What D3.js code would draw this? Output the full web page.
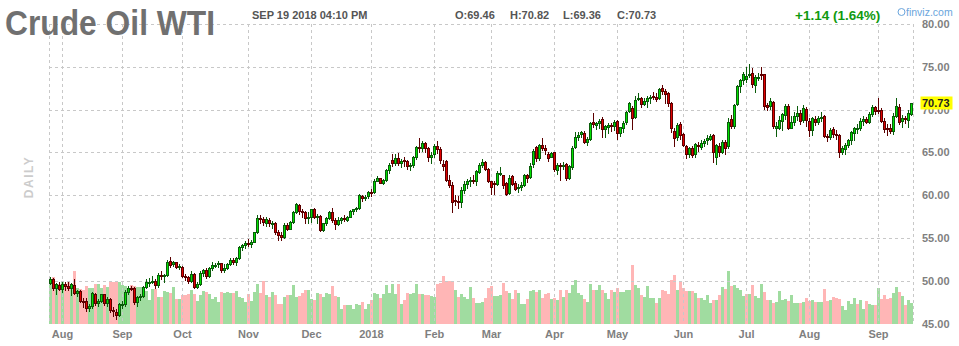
<!DOCTYPE html>
<html lang="en">
<head>
<meta charset="UTF-8">
<title>Crude Oil WTI</title>
<script src="https://d3js.org/d3.v7.min.js"></script>
<style>
  body { margin: 0; background: #fff; }
  svg { display: block; font-family: "Liberation Sans", Arial, sans-serif; }
</style>
</head>
<body>
<div id="chart"></div>
<script>
// Trading days, Jul 31 2017 .. Sep 19 2018 (one line per month)
const dates = [
  "2017-07-31",
  "2017-08-01","2017-08-02","2017-08-03","2017-08-04","2017-08-07","2017-08-08","2017-08-09","2017-08-10","2017-08-11","2017-08-14","2017-08-15","2017-08-16","2017-08-17","2017-08-18","2017-08-21","2017-08-22","2017-08-23","2017-08-24","2017-08-25","2017-08-28","2017-08-29","2017-08-30","2017-08-31",
  "2017-09-01","2017-09-05","2017-09-06","2017-09-07","2017-09-08","2017-09-11","2017-09-12","2017-09-13","2017-09-14","2017-09-15","2017-09-18","2017-09-19","2017-09-20","2017-09-21","2017-09-22","2017-09-25","2017-09-26","2017-09-27","2017-09-28","2017-09-29",
  "2017-10-02","2017-10-03","2017-10-04","2017-10-05","2017-10-06","2017-10-09","2017-10-10","2017-10-11","2017-10-12","2017-10-13","2017-10-16","2017-10-17","2017-10-18","2017-10-19","2017-10-20","2017-10-23","2017-10-24","2017-10-25","2017-10-26","2017-10-27","2017-10-30","2017-10-31",
  "2017-11-01","2017-11-02","2017-11-03","2017-11-06","2017-11-07","2017-11-08","2017-11-09","2017-11-10","2017-11-13","2017-11-14","2017-11-15","2017-11-16","2017-11-17","2017-11-20","2017-11-21","2017-11-22","2017-11-24","2017-11-27","2017-11-28","2017-11-29","2017-11-30",
  "2017-12-01","2017-12-04","2017-12-05","2017-12-06","2017-12-07","2017-12-08","2017-12-11","2017-12-12","2017-12-13","2017-12-14","2017-12-15","2017-12-18","2017-12-19","2017-12-20","2017-12-21","2017-12-22","2017-12-26","2017-12-27","2017-12-28","2017-12-29",
  "2018-01-02","2018-01-03","2018-01-04","2018-01-05","2018-01-08","2018-01-09","2018-01-10","2018-01-11","2018-01-12","2018-01-16","2018-01-17","2018-01-18","2018-01-19","2018-01-22","2018-01-23","2018-01-24","2018-01-25","2018-01-26","2018-01-29","2018-01-30","2018-01-31",
  "2018-02-01","2018-02-02","2018-02-05","2018-02-06","2018-02-07","2018-02-08","2018-02-09","2018-02-12","2018-02-13","2018-02-14","2018-02-15","2018-02-16","2018-02-20","2018-02-21","2018-02-22","2018-02-23","2018-02-26","2018-02-27","2018-02-28",
  "2018-03-01","2018-03-02","2018-03-05","2018-03-06","2018-03-07","2018-03-08","2018-03-09","2018-03-12","2018-03-13","2018-03-14","2018-03-15","2018-03-16","2018-03-19","2018-03-20","2018-03-21","2018-03-22","2018-03-23","2018-03-26","2018-03-27","2018-03-28","2018-03-29",
  "2018-04-02","2018-04-03","2018-04-04","2018-04-05","2018-04-06","2018-04-09","2018-04-10","2018-04-11","2018-04-12","2018-04-13","2018-04-16","2018-04-17","2018-04-18","2018-04-19","2018-04-20","2018-04-23","2018-04-24","2018-04-25","2018-04-26","2018-04-27","2018-04-30",
  "2018-05-01","2018-05-02","2018-05-03","2018-05-04","2018-05-07","2018-05-08","2018-05-09","2018-05-10","2018-05-11","2018-05-14","2018-05-15","2018-05-16","2018-05-17","2018-05-18","2018-05-21","2018-05-22","2018-05-23","2018-05-24","2018-05-25","2018-05-29","2018-05-30","2018-05-31",
  "2018-06-01","2018-06-04","2018-06-05","2018-06-06","2018-06-07","2018-06-08","2018-06-11","2018-06-12","2018-06-13","2018-06-14","2018-06-15","2018-06-18","2018-06-19","2018-06-20","2018-06-21","2018-06-22","2018-06-25","2018-06-26","2018-06-27","2018-06-28","2018-06-29",
  "2018-07-02","2018-07-03","2018-07-05","2018-07-06","2018-07-09","2018-07-10","2018-07-11","2018-07-12","2018-07-13","2018-07-16","2018-07-17","2018-07-18","2018-07-19","2018-07-20","2018-07-23","2018-07-24","2018-07-25","2018-07-26","2018-07-27","2018-07-30","2018-07-31",
  "2018-08-01","2018-08-02","2018-08-03","2018-08-06","2018-08-07","2018-08-08","2018-08-09","2018-08-10","2018-08-13","2018-08-14","2018-08-15","2018-08-16","2018-08-17","2018-08-20","2018-08-21","2018-08-22","2018-08-23","2018-08-24","2018-08-27","2018-08-28","2018-08-29","2018-08-30","2018-08-31",
  "2018-09-04","2018-09-05","2018-09-06","2018-09-07","2018-09-10","2018-09-11","2018-09-12","2018-09-13","2018-09-14","2018-09-17","2018-09-18","2018-09-19"
];

const opens = [
  49.75,
  50.20,49.15,49.55,49.05,49.60,49.40,49.20,49.55,48.60,48.80,47.60,47.60,46.80,47.10,48.50,47.40,47.65,48.40,47.45,47.85,46.55,46.40,46.00,
  47.25,47.30,48.70,49.15,49.10,47.50,48.10,48.25,49.30,49.85,49.90,49.95,49.50,50.70,50.55,50.70,52.25,52.00,52.15,51.55,
  51.65,50.55,50.45,49.95,50.80,49.30,49.60,50.95,51.30,50.60,51.45,51.85,51.90,52.05,51.30,51.50,51.90,52.45,52.20,52.65,53.90,54.15,
  54.40,54.30,54.55,55.65,57.35,57.20,56.80,57.15,56.70,56.75,55.70,55.35,55.15,56.55,56.10,56.85,58.05,58.90,58.10,58.00,57.30,
  57.40,58.35,57.45,57.60,55.95,56.70,57.35,58.00,57.15,56.60,57.05,57.30,57.15,57.45,58.10,58.35,58.50,59.95,59.65,59.85,
  60.40,60.35,61.65,62.00,61.45,61.75,62.95,64.10,63.80,64.30,63.75,64.05,63.95,63.35,63.55,64.45,65.60,65.50,66.10,65.55,64.50,
  64.75,65.80,65.45,63.60,63.95,61.80,61.15,59.40,59.30,59.20,60.60,61.35,61.70,61.80,61.70,62.75,63.55,63.90,63.00,
  61.65,61.40,61.30,62.55,62.30,61.40,60.20,62.20,61.40,60.80,60.95,61.20,62.30,62.10,63.60,65.60,64.30,65.90,65.55,64.80,64.50,
  65.00,62.90,63.50,63.35,63.60,62.00,63.30,65.60,66.80,67.10,67.30,66.20,66.60,68.60,68.20,68.40,68.90,67.70,68.00,68.20,68.10,
  68.70,67.30,67.90,68.50,69.80,70.20,69.10,71.20,71.40,70.60,71.00,71.30,71.60,71.50,71.40,72.50,72.20,71.90,70.80,67.50,66.80,68.30,
  67.10,65.70,64.80,65.50,64.80,65.90,65.60,66.10,66.40,66.60,67.00,64.50,65.80,65.00,66.20,65.80,68.90,68.10,70.60,72.80,73.40,
  73.60,74.00,74.30,72.90,73.80,74.20,74.10,70.50,70.40,70.90,67.90,67.90,68.70,69.40,70.40,67.90,68.50,69.30,69.60,68.80,70.10,
  68.70,67.60,68.90,68.50,69.00,69.20,66.90,66.80,67.70,67.10,67.00,65.00,65.40,65.90,66.40,67.30,67.75,67.80,68.70,68.90,68.50,69.50,70.30,
  69.90,69.90,68.70,67.90,67.80,67.50,69.30,70.30,68.70,69.00,68.80,69.46
];

const highs = [
  50.43,
  50.30,49.70,49.90,49.80,49.90,49.80,49.70,50.20,48.95,48.90,47.95,47.95,47.30,48.70,48.60,47.90,48.50,48.50,48.10,48.00,46.95,46.70,47.40,
  47.65,48.90,49.40,49.40,49.30,48.20,48.50,49.40,50.20,50.30,50.50,50.20,50.90,51.10,50.80,52.40,52.80,52.30,52.20,51.90,
  51.70,50.75,50.60,51.10,50.95,49.90,51.10,51.40,51.50,51.60,52.20,52.10,52.30,52.10,51.90,52.10,52.60,52.70,52.80,54.00,54.30,54.60,
  54.90,54.80,55.70,57.70,57.70,57.40,57.40,57.30,57.00,56.90,55.90,55.70,56.70,56.80,57.00,58.10,59.05,59.00,58.40,58.10,58.00,
  58.40,58.50,57.80,57.70,56.80,57.50,58.20,58.50,57.30,57.40,57.50,57.70,57.60,58.30,58.40,58.60,60.10,60.00,60.00,60.50,
  60.75,61.90,62.20,62.05,61.90,63.10,63.70,64.80,64.80,64.90,64.20,64.40,64.10,63.70,64.60,65.80,66.66,66.30,66.20,65.60,65.10,
  66.00,66.30,65.60,64.10,64.10,62.30,61.50,60.00,59.90,61.00,61.70,61.90,62.10,62.30,62.90,63.70,64.20,64.00,63.20,
  61.70,61.60,62.80,63.30,62.40,61.50,62.30,62.30,61.60,61.30,61.50,62.50,62.50,63.70,65.40,65.70,66.00,66.66,65.90,65.00,65.10,
  65.10,63.80,63.70,63.90,63.80,63.50,65.70,67.40,67.40,67.50,67.50,66.80,68.60,69.56,68.60,68.90,69.10,68.20,68.40,68.40,68.80,
  68.80,68.00,68.70,69.80,70.84,70.40,71.60,71.89,71.50,71.30,71.60,71.70,72.00,71.90,72.50,72.83,72.40,72.10,70.90,67.90,68.40,68.50,
  67.30,65.90,65.60,65.70,66.10,66.20,66.40,66.60,67.00,67.20,67.10,66.00,66.10,66.40,66.40,69.00,69.40,70.60,72.90,73.60,74.40,
  75.00,75.27,74.90,74.00,74.30,75.00,74.20,70.80,71.30,71.00,68.50,69.20,69.60,70.70,70.60,69.20,69.70,70.40,70.00,70.50,70.30,
  69.00,69.10,69.30,69.30,69.70,69.40,67.20,67.80,68.00,67.60,67.10,65.80,66.10,66.60,67.50,68.00,68.30,69.00,69.20,69.10,69.70,70.50,70.40,
  71.40,70.20,69.00,68.30,68.30,69.60,71.30,70.60,69.40,69.30,69.90,70.82
];

const lows = [
  49.60,
  48.97,48.50,48.90,48.70,48.90,48.90,48.30,48.50,48.25,47.55,46.95,46.50,46.45,46.80,47.20,47.00,47.50,47.20,47.10,46.30,45.90,45.58,45.90,
  46.80,47.10,48.40,48.90,47.30,47.10,47.80,48.05,49.10,49.40,49.70,49.10,49.30,50.20,49.90,50.60,51.60,51.70,51.50,51.40,
  50.40,50.10,49.70,49.80,49.20,49.10,49.50,50.60,50.30,50.40,51.30,51.60,51.60,51.00,51.00,51.40,51.80,51.90,51.80,52.50,53.60,53.80,
  54.00,53.90,54.50,55.60,56.80,56.50,56.40,56.40,56.20,55.50,54.80,54.80,55.00,55.90,56.00,56.70,57.90,57.80,57.50,56.80,56.80,
  56.90,57.30,56.80,55.80,55.80,56.50,57.20,56.90,56.10,56.50,56.80,57.00,57.00,57.40,57.80,58.10,58.40,59.30,59.40,59.70,
  59.90,60.30,61.60,61.40,61.30,61.60,62.60,63.40,63.50,63.50,63.30,63.40,63.00,62.90,63.30,64.20,65.10,65.20,65.00,64.00,63.70,
  64.40,64.90,63.80,62.90,61.60,61.00,58.07,58.90,58.50,58.60,60.20,60.80,61.10,61.40,61.20,62.60,63.30,62.90,61.50,
  60.10,60.10,61.20,62.30,60.80,60.00,60.10,61.20,60.60,60.40,60.60,61.10,61.50,62.00,63.30,64.00,64.10,65.30,64.80,64.00,64.40,
  62.80,62.50,61.80,63.00,61.80,61.90,63.10,65.50,66.50,66.80,66.10,65.90,66.40,68.00,67.70,67.90,66.80,66.80,67.30,67.50,67.60,
  66.60,66.90,67.40,68.30,69.70,67.70,69.00,71.10,70.30,70.50,70.30,70.80,71.20,71.00,71.20,71.80,70.80,70.40,67.40,65.80,66.50,66.60,
  65.70,64.30,64.40,64.40,64.50,65.20,65.40,65.80,66.00,66.40,63.90,63.60,64.60,64.90,64.80,65.50,67.90,67.90,70.50,72.10,73.00,
  73.20,73.80,72.60,72.00,73.40,73.60,70.10,69.90,70.10,67.80,66.90,67.70,67.60,68.90,67.70,67.80,68.20,68.80,68.30,68.60,68.10,
  66.90,67.00,68.20,68.30,68.70,66.80,66.30,66.60,66.80,66.60,64.43,64.80,64.80,65.60,66.00,66.50,67.30,67.60,68.20,68.40,68.40,69.30,69.50,
  69.60,68.60,67.40,67.00,67.30,67.20,69.10,68.30,68.00,68.40,68.00,69.36
];

const closes = [
  50.17,
  49.16,49.59,49.03,49.58,49.39,49.17,49.56,48.59,48.82,47.59,47.55,46.78,47.09,48.51,47.37,47.64,48.41,47.43,47.87,46.57,46.44,45.96,47.23,
  47.29,48.66,49.16,49.09,47.48,48.07,48.23,49.30,49.89,49.89,49.91,49.48,50.69,50.55,50.66,52.22,51.88,52.14,51.56,51.67,
  50.58,50.42,49.98,50.79,49.29,49.58,50.92,51.30,50.60,51.45,51.87,51.88,52.04,51.29,51.47,51.90,52.47,52.18,52.64,53.90,54.15,54.38,
  54.30,54.54,55.64,57.35,57.20,56.81,57.17,56.74,56.76,55.70,55.33,55.14,56.55,56.09,56.83,58.02,58.95,58.11,57.99,57.30,57.40,
  58.36,57.47,57.62,55.96,56.69,57.36,57.99,57.14,56.60,57.04,57.30,57.16,57.46,58.09,58.36,58.47,59.97,59.64,59.84,60.42,
  60.37,61.63,62.01,61.44,61.73,62.96,63.57,63.80,64.30,63.73,63.97,63.95,63.37,63.57,64.47,65.61,65.51,66.14,65.56,64.50,64.73,
  65.80,65.45,64.15,63.39,61.79,61.15,59.20,59.29,59.19,60.60,61.34,61.68,61.79,61.68,62.77,63.55,63.91,63.01,61.64,
  60.99,61.25,62.57,62.60,61.15,60.12,62.04,61.36,60.71,60.96,61.19,62.34,62.06,63.40,65.17,64.30,65.88,65.55,65.25,64.38,64.94,
  63.01,63.51,63.37,63.54,62.06,63.42,65.51,66.82,67.07,67.39,66.22,66.52,68.47,68.29,68.38,68.64,67.70,68.05,68.19,68.10,68.57,
  67.25,67.93,68.43,69.72,70.73,69.06,71.14,71.36,70.70,70.96,71.31,71.49,71.49,71.28,72.35,72.20,71.84,70.71,67.88,66.73,68.21,67.04,
  65.81,64.75,65.52,64.73,65.95,65.74,66.10,66.36,66.64,66.89,65.06,65.85,65.07,66.22,65.54,68.58,68.08,70.53,72.76,73.45,74.15,
  73.94,74.14,72.94,73.80,73.85,74.11,70.38,70.33,71.01,68.06,68.08,68.76,69.46,70.46,67.89,68.52,69.30,69.61,68.69,70.13,68.76,
  67.66,68.96,68.49,69.01,69.17,66.94,66.81,67.63,67.20,67.04,65.01,65.46,65.91,66.43,67.35,67.86,67.83,68.72,68.87,68.53,69.51,70.25,69.80,
  69.87,68.72,67.77,67.75,67.54,69.25,70.37,68.59,68.99,68.91,69.59,70.73
];

// volume, thousands of contracts
const volumes = [
  675,
  700,590,590,625,590,625,590,785,540,525,510,560,535,540,600,590,540,575,550,630,630,620,
  630,575,560,525,575,570,550,550,550,490,360,515,515,400,400,485,475,460,550,365,365,
  425,425,440,500,450,335,425,495,475,450,370,400,325,475,460,475,460,460,490,400,385,325,
  450,335,475,590,460,635,435,400,475,435,300,300,400,435,435,575,400,410,465,500,500,
  375,350,460,450,400,460,440,560,410,400,225,275,275,275,225,290,275,325,225,300,
  350,460,440,390,450,575,460,600,450,600,290,350,465,440,460,600,450,450,425,425,
  410,400,600,610,710,640,640,640,510,400,440,400,375,550,390,310,310,325,385,
  540,560,415,415,425,610,485,460,365,510,460,290,290,375,485,510,475,510,390,450,465,
  365,390,350,510,400,510,465,575,660,465,425,375,325,590,500,500,575,510,465,365,510,
  475,540,475,475,510,510,875,585,535,425,400,560,390,390,310,390,500,490,450,650,725,500,
  635,535,485,485,485,460,385,385,360,425,310,350,360,425,550,515,785,560,575,540,510,
  415,450,450,575,410,390,590,475,350,350,310,325,485,350,375,340,425,310,310,310,
  325,385,335,350,325,325,325,515,340,350,400,385,365,265,210,340,290,390,300,350,215,340,300,
  275,285,535,365,435,375,390,460,550,475,410,275,350,310
];

const yTicks = [45, 50, 55, 60, 65, 70, 75, 80];
const monthTicks = ["2017-08-04","2017-09-01","2017-10-02","2017-11-01","2017-12-01","2018-01-02","2018-02-01","2018-03-01","2018-04-02","2018-05-01","2018-06-01","2018-07-02","2018-08-01","2018-09-04"];
const monthLabels = ["Aug","Sep","Oct","Nov","Dec","2018","Feb","Mar","Apr","May","Jun","Jul","Aug","Sep"];

const W = 959, H = 346;
const plotLeft = 49, plotRight = 913, plotTop = 24, plotBottom = 323.5;

const svg = d3.select("#chart").append("svg")
    .attr("width", W).attr("height", H);

const x = d3.scaleBand().domain(dates).range([plotLeft, plotRight]).padding(0);
const y = d3.scaleLinear().domain([45, 80]).range([plotBottom, plotTop]);
const vy = d3.scaleLinear().domain([0, 900]).range([plotBottom, plotBottom - 60]);

const idx = d3.range(dates.length);
const up = i => closes[i] >= opens[i];
const volUp = i => i === 0 ? closes[0] >= opens[0] : closes[i] >= closes[i - 1];

// volume bars
svg.append("g").selectAll("rect")
  .data(idx).join("rect")
    .attr("x", i => x(dates[i]))
    .attr("width", x.bandwidth())
    .attr("y", i => Math.round(vy(volumes[i])))
    .attr("height", i => Math.round(plotBottom) - Math.round(vy(volumes[i])))
    .attr("fill", i => volUp(i) ? "#a0dca0" : "#ffb6b6");

// grid
const grid = svg.append("g")
    .attr("stroke", "#c8c8c8").attr("stroke-dasharray", "3,3").attr("fill", "none");
grid.selectAll("line.h")
  .data(yTicks.filter(d => d > 45)).join("line")
    .attr("x1", plotLeft).attr("x2", plotRight)
    .attr("y1", d => Math.round(y(d)) + 0.5).attr("y2", d => Math.round(y(d)) + 0.5);
grid.selectAll("line.v")
  .data(monthTicks).join("line")
    .attr("x1", d => x(d) + 1.5).attr("x2", d => x(d) + 1.5)
    .attr("y1", plotTop).attr("y2", plotBottom);
grid.append("line").attr("x1", plotLeft + 0.5).attr("x2", plotLeft + 0.5).attr("y1", plotTop).attr("y2", plotBottom);
grid.append("line").attr("x1", plotRight + 0.5).attr("x2", plotRight + 0.5).attr("y1", plotTop).attr("y2", plotBottom);

// candles
const candles = svg.append("g");
candles.selectAll("line")
  .data(idx).join("line")
    .attr("x1", i => x(dates[i]) + 1.5).attr("x2", i => x(dates[i]) + 1.5)
    .attr("y1", i => Math.round(y(highs[i]))).attr("y2", i => Math.round(y(lows[i])) + 1)
    .attr("stroke", i => up(i) ? "#0a5c0a" : "#5c0000");
candles.selectAll("rect")
  .data(idx).join("rect")
    .attr("x", i => x(dates[i]) + 0.5)
    .attr("width", x.bandwidth() - 1)
    .attr("y", i => Math.round(y(Math.max(opens[i], closes[i]))) + 0.5)
    .attr("height", i => Math.max(1, Math.round(y(Math.min(opens[i], closes[i]))) - Math.round(y(Math.max(opens[i], closes[i])))))
    .attr("fill", i => up(i) ? "#00e000" : "#e00000")
    .attr("stroke", i => up(i) ? "#0a5c0a" : "#5c0000");

// right price axis
svg.append("g").selectAll("text")
  .data(yTicks).join("text")
    .attr("x", 922).attr("y", d => y(d) + 4)
    .attr("font-size", 11).attr("font-weight", "bold").attr("fill", "#7f7f7f")
    .text(d => d.toFixed(2));

// last price tag
const last = dates.length - 1;
svg.append("rect")
    .attr("x", 920.5).attr("y", Math.round(y(closes[last])) - 6.5)
    .attr("width", 32).attr("height", 13).attr("fill", "#ffff00");
svg.append("text")
    .attr("x", 922).attr("y", y(closes[last]) + 4)
    .attr("font-size", 11).attr("font-weight", "bold").attr("fill", "#222")
    .text(closes[last].toFixed(2));

// month axis
svg.append("g").selectAll("text")
  .data(monthTicks).join("text")
    .attr("x", d => x(d) + 1.5).attr("y", 338)
    .attr("text-anchor", "middle")
    .attr("font-size", 11).attr("font-weight", "bold").attr("fill", "#7f7f7f")
    .text((d, i) => monthLabels[i]);

// DAILY label
svg.append("text")
    .attr("transform", "translate(33,177) rotate(-90)")
    .attr("text-anchor", "middle")
    .attr("font-size", 12).attr("font-weight", "bold").attr("fill", "#cccccc")
    .attr("letter-spacing", 1.5)
    .text("DAILY");

// header
svg.append("text")
    .attr("x", 5).attr("y", 35)
    .attr("font-size", 35).attr("font-weight", "bold").attr("fill", "#707070")
    .attr("textLength", 210).attr("lengthAdjust", "spacingAndGlyphs")
    .text("Crude Oil WTI");

svg.append("text")
    .attr("x", 252).attr("y", 19)
    .attr("font-size", 11).attr("font-weight", "bold").attr("fill", "#555")
    .text("SEP 19 2018 04:10 PM");

const ohlcText = [
  ["O", opens[last], 455], ["H", highs[last], 510], ["L", lows[last], 563], ["C", closes[last], 617]
];
svg.append("g").selectAll("text")
  .data(ohlcText).join("text")
    .attr("x", d => d[2]).attr("y", 19)
    .attr("font-size", 11).attr("font-weight", "bold").attr("fill", "#555")
    .text(d => `${d[0]}:${d[1].toFixed(2)}`);

const chg = closes[last] - closes[last - 1];
svg.append("text")
    .attr("x", 795).attr("y", 20)
    .attr("font-size", 13.5).attr("font-weight", "bold").attr("fill", "#109a10")
    .text(`${chg >= 0 ? "+" : ""}${chg.toFixed(2)} (${(chg / closes[last - 1] * 100).toFixed(2)}%)`);

// finviz mark
svg.append("circle").attr("cx", 901.5).attr("cy", 12).attr("r", 3.5)
    .attr("fill", "none").attr("stroke", "#6aa5dc");
svg.append("text")
    .attr("x", 906).attr("y", 16)
    .attr("font-size", 10.5).attr("fill", "#6aa5dc")
    .text("finviz.com");
</script>
</body>
</html>
